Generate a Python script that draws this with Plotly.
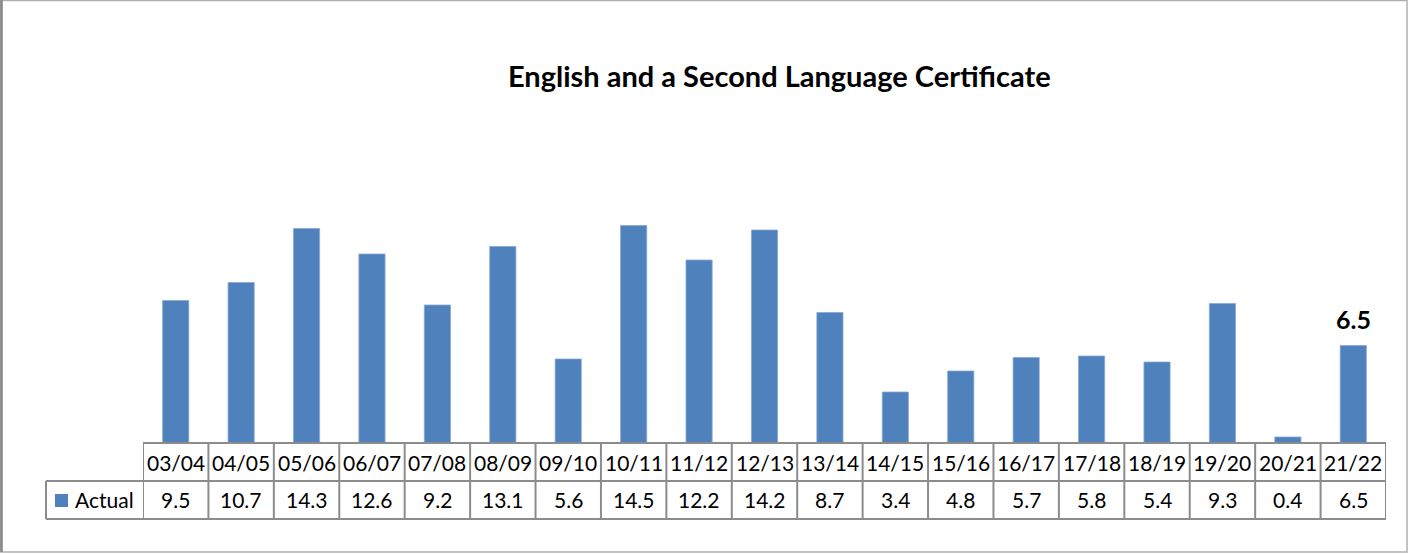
import plotly.graph_objects as go

# Academic years and the actual certificate values
categories = ["03/04", "04/05", "05/06", "06/07", "07/08", "08/09", "09/10", "10/11",
              "11/12", "12/13", "13/14", "14/15", "15/16", "16/17", "17/18", "18/19",
              "19/20", "20/21", "21/22"]
actual = [9.5, 10.7, 14.3, 12.6, 9.2, 13.1, 5.6, 14.5, 12.2, 14.2, 8.7, 3.4,
          4.8, 5.7, 5.8, 5.4, 9.3, 0.4, 6.5]
series_name = "Actual"
title_text = "English and a Second Language Certificate"

W, H = 1410, 554
BAR_COLOR = "#4F81BD"
GRID = "#8C8C8C"
FONT = "Lato"

def py(p):
    """pixel row -> paper y"""
    return (H - p) / H

def px(p):
    """pixel column -> paper x"""
    return p / W

plot_left, plot_right = 143, 1386
base_y, row1_y, row2_y = 443, 481, 519
plot_top = 173
table_left = 46

fig = go.Figure()
fig.add_trace(go.Bar(
    x=list(range(len(categories))), y=actual, name=series_name,
    marker=dict(color=BAR_COLOR, line=dict(width=0.8, color="#86A8D4")),
    showlegend=False, hoverinfo="skip",
))

shapes = []
n = len(categories)
# table horizontal rules
shapes.append(dict(type="line", xref="paper", yref="paper",
                   x0=px(plot_left), x1=px(plot_right), y0=py(base_y), y1=py(base_y),
                   line=dict(color=GRID, width=2)))
for yy in (row1_y, row2_y):
    shapes.append(dict(type="line", xref="paper", yref="paper",
                       x0=px(table_left), x1=px(plot_right), y0=py(yy), y1=py(yy),
                       line=dict(color=GRID, width=2)))
# table vertical rules
for i in range(n + 1):
    shapes.append(dict(type="line", xref="x", yref="paper",
                       x0=i - 0.5, x1=i - 0.5, y0=py(base_y), y1=py(row2_y),
                       line=dict(color=GRID, width=2)))
shapes.append(dict(type="line", xref="paper", yref="paper",
                   x0=px(table_left), x1=px(table_left), y0=py(row1_y), y1=py(row2_y),
                   line=dict(color=GRID, width=2)))
# legend key square
shapes.append(dict(type="rect", xref="paper", yref="paper",
                   x0=px(55), x1=px(68), y0=py(507), y1=py(494),
                   fillcolor=BAR_COLOR, line=dict(width=0)))
# outer chart border
shapes.append(dict(type="rect", xref="paper", yref="paper",
                   x0=px(1), x1=px(1407), y0=py(552), y1=py(0.5),
                   line=dict(color="#B0B0B0", width=1.5)))
shapes.append(dict(type="line", xref="paper", yref="paper",
                   x0=px(1.5), x1=px(1.5), y0=py(552), y1=py(0),
                   line=dict(color="#858585", width=2.5)))

cell_font = dict(family=FONT, size=21, color="#000000")
annotations = []
for i, (c, v) in enumerate(zip(categories, actual)):
    annotations.append(dict(x=i, y=py((base_y + row1_y) / 2), xref="x", yref="paper",
                            text=c, showarrow=False, xanchor="center", yanchor="middle",
                            font=cell_font))
    annotations.append(dict(x=i, y=py((row1_y + row2_y) / 2), xref="x", yref="paper",
                            text=f"{v}", showarrow=False, xanchor="center", yanchor="middle",
                            font=cell_font))
annotations.append(dict(x=px(73), y=py((row1_y + row2_y) / 2), xref="paper", yref="paper",
                        xanchor="left", yanchor="middle", text=series_name, showarrow=False,
                        font=cell_font))
# value label on the latest year
annotations.append(dict(x=n - 1, y=actual[-1], xref="x", yref="y",
                        text=f"<b>{actual[-1]}</b>", showarrow=False,
                        xanchor="center", yanchor="bottom", yshift=10,
                        font=dict(family=FONT, size=25, color="#000000")))
# chart title
annotations.append(dict(x=px(779), y=py(75), xref="paper", yref="paper",
                        text=f"<b>{title_text}</b>", showarrow=False,
                        xanchor="center", yanchor="middle",
                        font=dict(family=FONT, size=29, color="#000000")))

fig.update_layout(
    width=W, height=H, margin=dict(l=0, r=0, t=0, b=0),
    paper_bgcolor="white", plot_bgcolor="white",
    bargap=0.6,
    xaxis=dict(domain=[px(plot_left), px(plot_right)], range=[-0.5, n - 0.5],
               showticklabels=False, showgrid=False, zeroline=False, showline=False,
               fixedrange=True),
    yaxis=dict(domain=[py(base_y), py(plot_top)], range=[0, 18],
               showticklabels=False, showgrid=False, zeroline=False, showline=False,
               fixedrange=True),
    shapes=shapes, annotations=annotations,
)

fig.write_html("out.html")
